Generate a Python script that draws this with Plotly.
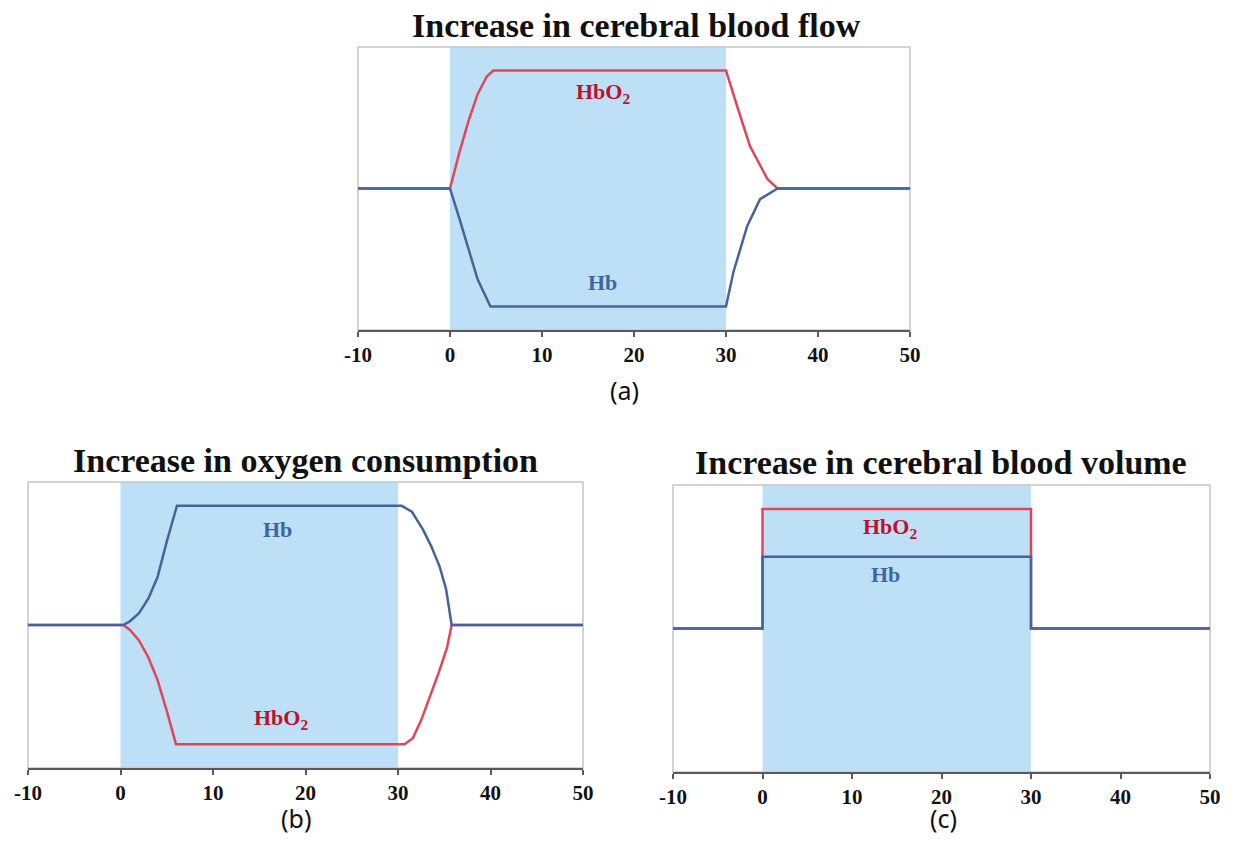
import plotly.graph_objects as go

# ---------------- data ----------------
tick_vals = [-10, 0, 10, 20, 30, 40, 50]
tick_text = ["-10", "0", "10", "20", "30", "40", "50"]
stim_start = 0
stim_end = 30

# (a) increase in cerebral blood flow
a_t_hbo2 = [-10, 0, 1, 2, 3, 4, 4.7, 30, 31.2, 32.6, 34.5, 35.6, 50]
a_hbo2 = [0, 0, 0.30, 0.57, 0.80, 0.95, 1.0, 1.0, 0.70, 0.36, 0.08, 0, 0]
a_t_hb = [-10, 0, 1, 2, 3, 4.4, 30, 30.8, 32.3, 33.7, 35.6, 50]
a_hb = [0, 0, -0.25, -0.50, -0.77, -1.0, -1.0, -0.71, -0.32, -0.09, 0, 0]

# (b) increase in oxygen consumption
b_t_hb = [-10, 0.3, 1, 2, 3, 4, 5, 6.1, 30.4, 31.5, 32.7, 33.6, 34.5, 35.2, 35.8, 50]
b_hb = [0, 0, 0.03, 0.10, 0.22, 0.40, 0.70, 1.0, 1.0, 0.95, 0.80, 0.66, 0.49, 0.30, 0, 0]
b_t_hbo2 = [-10, 0.3, 1, 2, 3, 4, 5, 6, 30.7, 31.6, 32.5, 33.4, 34.4, 35.3, 35.8, 50]
b_hbo2 = [0, 0, -0.04, -0.13, -0.27, -0.46, -0.72, -1.0, -1.0, -0.95, -0.80, -0.61, -0.40, -0.19, 0, 0]

# (c) increase in cerebral blood volume
c_t = [-10, 0, 0, 30, 30, 50]
c_hbo2 = [0, 0, 1.0, 1.0, 0, 0]
c_hb = [0, 0, 0.6, 0.6, 0, 0]

titles = ["Increase in cerebral blood flow",
          "Increase in oxygen consumption",
          "Increase in cerebral blood volume"]
panel_labels = ["(a)", "(b)", "(c)"]

# ---------------- style ----------------
RED = "#e2455a"
BLUE = "#44649c"
RED_TXT = "#c0112b"
BLUE_TXT = "#3d66a3"
SHADE = "#bde0f6"
SERIF = "Liberation Serif"

# figure sized so that the page (with its 8px body margin) is 1247x841
W, H, OFF = 1231, 825, 8


def px_x(p):
    return (p - OFF) / W


def px_y(p):
    return 1 - (p - OFF) / H


fig = go.Figure()

panels = [
    dict(ax="", dx=[px_x(358), px_x(910)], dy=[px_y(330), px_y(47)],
         series=[(a_t_hbo2, a_hbo2, RED), (a_t_hb, a_hb, BLUE)],
         labels=[(16.6, 0.81, "HbO<sub>2</sub>", RED_TXT), (16.6, -0.80, "Hb", BLUE_TXT)]),
    dict(ax="2", dx=[px_x(28), px_x(583)], dy=[px_y(768), px_y(482)],
         series=[(b_t_hbo2, b_hbo2, RED), (b_t_hb, b_hb, BLUE)],
         labels=[(17.0, 0.80, "Hb", BLUE_TXT), (17.3, -0.79, "HbO<sub>2</sub>", RED_TXT)]),
    dict(ax="3", dx=[px_x(673), px_x(1210)], dy=[px_y(772), px_y(485)],
         series=[(c_t, c_hbo2, RED), (c_t, c_hb, BLUE)],
         labels=[(14.2, 0.84, "HbO<sub>2</sub>", RED_TXT), (13.7, 0.45, "Hb", BLUE_TXT)]),
]

layout_axes = {}
shapes = []
annotations = []
for i, p in enumerate(panels):
    sfx = p["ax"]
    xref = "x" + sfx
    yref = "y" + sfx
    for t, v, col in p["series"]:
        fig.add_trace(go.Scatter(x=t, y=v, mode="lines", xaxis=xref, yaxis=yref,
                                 line=dict(color=col, width=2.5), showlegend=False,
                                 hoverinfo="skip"))
    layout_axes["xaxis" + sfx] = dict(
        domain=p["dx"], range=[-10, 50], anchor=yref, tickvals=tick_vals, ticktext=tick_text,
        automargin=False,
        showgrid=False, zeroline=False, showline=True, linecolor="#5a5a5a", linewidth=1.5,
        ticks="outside", ticklen=5, tickcolor="#5a5a5a", tickwidth=1.5,
        tickfont=dict(family=SERIF, size=21, color="#111111", weight="bold"))
    layout_axes["yaxis" + sfx] = dict(
        domain=p["dy"], range=[-1.2, 1.2], anchor=xref, showgrid=False, zeroline=False,
        automargin=False,
        showline=False, showticklabels=False, ticks="")
    # stimulus shading
    shapes.append(dict(type="rect", xref=xref, yref=yref + " domain", x0=stim_start, x1=stim_end,
                       y0=0, y1=1, fillcolor=SHADE, line=dict(width=0), layer="below"))
    # light frame
    shapes.append(dict(type="rect", xref=xref + " domain", yref=yref + " domain", x0=0, x1=1,
                       y0=0, y1=1, line=dict(color="#c6c6c6", width=1.5), layer="below"))
    for lx, ly, txt, col in p["labels"]:
        annotations.append(dict(x=lx, y=ly, xref=xref, yref=yref, text="<b>" + txt + "</b>",
                                showarrow=False, font=dict(family=SERIF, size=22, color=col)))

# titles
title_pos = [(636, 25), (305, 460), (941, 462)]
for (tx, ty), t in zip(title_pos, titles):
    annotations.append(dict(x=px_x(tx), y=px_y(ty), xref="paper", yref="paper",
                            text="<b>" + t + "</b>",
                            showarrow=False, xanchor="center", yanchor="middle",
                            font=dict(family=SERIF, size=34, color="#111111")))

# panel labels
lab_pos = [(624, 390), (296, 818), (943, 818)]
for (lx, ly), t in zip(lab_pos, panel_labels):
    annotations.append(dict(x=px_x(lx), y=px_y(ly), xref="paper", yref="paper", text=t,
                            showarrow=False, xanchor="center", yanchor="middle",
                            font=dict(family="Noto Sans", size=25, color="#111111")))

fig.update_layout(width=W, height=H, autosize=False,
                  margin=dict(l=0, r=0, t=0, b=0, autoexpand=False),
                  paper_bgcolor="white", plot_bgcolor="white",
                  shapes=shapes, annotations=annotations, **layout_axes)

fig.write_html("out.html")
